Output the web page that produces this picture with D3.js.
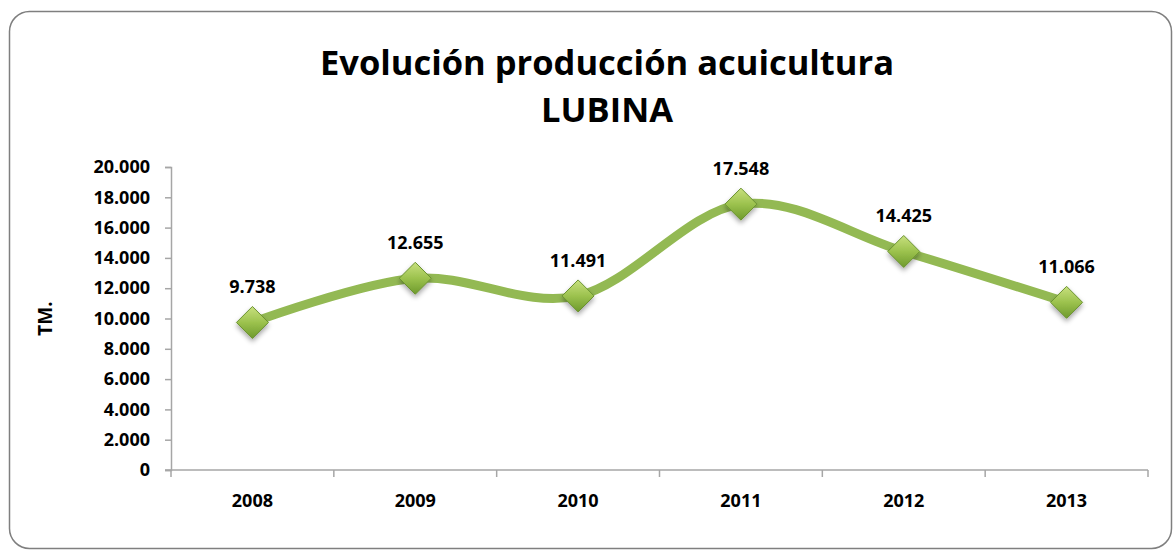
<!DOCTYPE html>
<html>
<head>
<meta charset="utf-8">
<script src="https://cdn.jsdelivr.net/npm/d3@7"></script>
<style>
  html, body { margin: 0; padding: 0; background: #fff; }
  svg { display: block; font-family: 'Open Sans', Lato, sans-serif; }
</style>
</head>
<body>
<div id="chart"></div>
<script>
// chart data
const years = ['2008', '2009', '2010', '2011', '2012', '2013']
const production = [9738, 12655, 11491, 17548, 14425, 11066]
const yTicks = [0, 2000, 4000, 6000, 8000, 10000, 12000, 14000, 16000, 18000, 20000]
const titleLines = ['Evolución producción acuicultura', 'LUBINA']
const yLabel = 'TM.'

const W = 1174, H = 552
const margin = { left: 171, right: 26, top: 167, bottom: 82 }

// spanish thousands separator
const fmt = v => d3.format(',')(v).replace(/,/g, '.')

const svg = d3.select('#chart').append('svg')
  .attr('width', W).attr('height', H)

const defs = svg.append('defs')
const grad = defs.append('linearGradient')
  .attr('id', 'mk').attr('x1', 0).attr('y1', 0).attr('x2', 0).attr('y2', 1)
grad.append('stop').attr('offset', '0%').attr('stop-color', '#c8e07e')
grad.append('stop').attr('offset', '50%').attr('stop-color', '#9cc24e')
grad.append('stop').attr('offset', '100%').attr('stop-color', '#6e9a2c')
const sh = defs.append('filter').attr('id', 'sh')
  .attr('x', '-50%').attr('y', '-50%').attr('width', '200%').attr('height', '200%')
sh.append('feDropShadow').attr('dx', 0).attr('dy', 3).attr('stdDeviation', 2.5)
  .attr('flood-color', '#000').attr('flood-opacity', 0.35)

// outer frame
svg.append('rect')
  .attr('x', 9.5).attr('y', 11.5).attr('width', 1162).attr('height', 537)
  .attr('rx', 20).attr('fill', '#fff').attr('stroke', '#7f7f7f').attr('stroke-width', 1.5)

// title
const title = svg.append('text')
  .attr('text-anchor', 'middle')
  .style('font-size', '34.5px').style('font-weight', 'bold').style('fill', '#000')
title.append('tspan').attr('x', 607).attr('y', 75).text(titleLines[0])
title.append('tspan').attr('x', 607).attr('y', 122).text(titleLines[1])

const x = d3.scaleBand().domain(years)
  .range([margin.left, W - margin.right])
const y = d3.scaleLinear().domain([0, 20000])
  .range([H - margin.bottom, margin.top])

// y axis
const yAxis = svg.append('g')
  .attr('transform', `translate(${margin.left},0)`)
  .call(d3.axisLeft(y).tickValues(yTicks).tickFormat(fmt).tickSizeOuter(0).tickSize(6).tickPadding(15))
yAxis.select('.domain').attr('stroke', '#a6a6a6').attr('stroke-width', 1.5)
yAxis.selectAll('.tick line').attr('stroke', '#a6a6a6').attr('stroke-width', 1.5)
yAxis.selectAll('.tick text')
  .style('font-size', '18px').style('font-weight', 'bold').style('fill', '#000')
  .style('font-family', "'Open Sans', sans-serif")

// x axis with ticks on category boundaries
const xAxis = svg.append('g')
  .attr('transform', `translate(0,${H - margin.bottom})`)
xAxis.append('line')
  .attr('x1', margin.left - 6).attr('x2', W - margin.right)
  .attr('stroke', '#a6a6a6').attr('stroke-width', 1.5)
xAxis.selectAll('line.tk')
  .data(years.concat(['end']))
  .join('line').attr('class', 'tk')
  .attr('x1', (d, i) => i < years.length ? x(d) : x(years[years.length - 1]) + x.bandwidth())
  .attr('x2', (d, i) => i < years.length ? x(d) : x(years[years.length - 1]) + x.bandwidth())
  .attr('y1', 0).attr('y2', 7)
  .attr('stroke', '#a6a6a6').attr('stroke-width', 1.5)
xAxis.selectAll('text')
  .data(years)
  .join('text')
  .attr('x', d => x(d) + x.bandwidth() / 2)
  .attr('y', 37)
  .attr('text-anchor', 'middle')
  .style('font-size', '18px').style('font-weight', 'bold').style('fill', '#000')
  .text(d => d)

// axis title
svg.append('text')
  .attr('transform', `translate(52,${(margin.top + H - margin.bottom) / 2}) rotate(-90)`)
  .attr('text-anchor', 'middle')
  .style('font-size', '19px').style('font-weight', 'bold')
  .text(yLabel)

const pts = years.map((d, i) => ({ year: d, v: production[i] }))
const cx = d => x(d.year) + x.bandwidth() / 2

// smoothed line
const line = d3.line().x(cx).y(d => y(d.v)).curve(d3.curveCardinal.tension(0))
svg.append('path')
  .datum(pts)
  .attr('d', line)
  .attr('fill', 'none')
  .attr('stroke', '#93b953')
  .attr('stroke-width', 9)
  .attr('stroke-linecap', 'round')

// diamond markers
const r = 16
svg.selectAll('path.mk')
  .data(pts)
  .join('path').attr('class', 'mk')
  .attr('d', `M0,${-r}L${r},0L0,${r}L${-r},0Z`)
  .attr('transform', d => `translate(${cx(d)},${y(d.v)})`)
  .attr('fill', 'url(#mk)')
  .attr('stroke', '#6a9230').attr('stroke-width', 1)
  .attr('filter', 'url(#sh)')

// data labels
svg.selectAll('text.lbl')
  .data(pts)
  .join('text').attr('class', 'lbl')
  .attr('x', cx)
  .attr('y', d => y(d.v) - 29)
  .attr('text-anchor', 'middle')
  .style('font-size', '18px').style('font-weight', 'bold').style('fill', '#000')
  .text(d => fmt(d.v))
</script>
</body>
</html>
